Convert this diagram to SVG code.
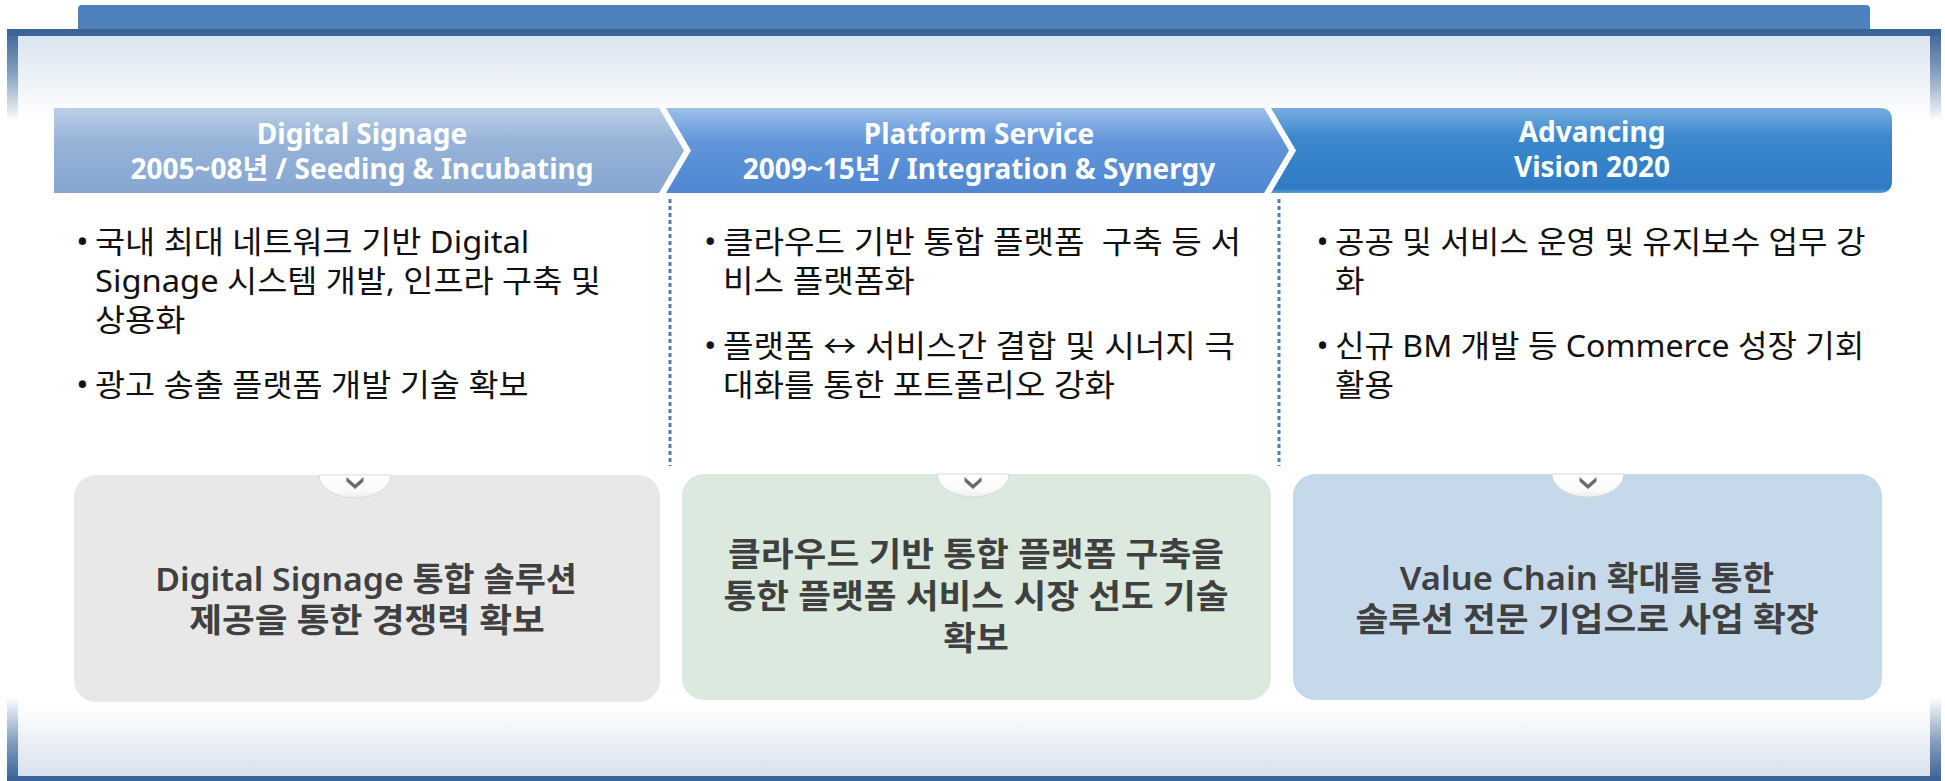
<svg xmlns="http://www.w3.org/2000/svg" width="1945" height="781" viewBox="0 0 1945 781">
  <style>
    .hd{font-family:"Noto Sans","Noto Sans CJK KR",sans-serif;font-weight:bold;font-size:28px;fill:#ffffff;text-anchor:middle}
    .bd{font-family:"Noto Sans","Noto Sans CJK KR",sans-serif;font-size:31px;fill:#111111;white-space:pre}
    .bl{font-family:"Noto Sans","Noto Sans CJK KR",sans-serif;font-size:31px;fill:#111111;text-anchor:middle}
    .cd{font-family:"Noto Sans","Noto Sans CJK KR",sans-serif;font-weight:600;font-size:33px;fill:#404040;text-anchor:middle}
    .sep{stroke:#4a7ebf;stroke-width:3;stroke-dasharray:4 3;fill:none}
    .tab{fill:url(#tabFill);stroke:#dadada;stroke-width:1}
    .chev{fill:#6b6b6b}
    .frameDark{fill:#3b6498}
  </style>
  <defs>
    <linearGradient id="topPanel" x1="0" y1="0" x2="0" y2="1">
      <stop offset="0" stop-color="#d8e2ef"/>
      <stop offset="1" stop-color="#ffffff"/>
    </linearGradient>
    <linearGradient id="botPanel" x1="0" y1="0" x2="0" y2="1">
      <stop offset="0" stop-color="#ffffff"/>
      <stop offset="1" stop-color="#d6dfec"/>
    </linearGradient>
    <linearGradient id="fadeDown" x1="0" y1="0" x2="0" y2="1">
      <stop offset="0" stop-color="#3b6498" stop-opacity="1"/>
      <stop offset="0.45" stop-color="#3b6498" stop-opacity="0.6"/>
      <stop offset="1" stop-color="#3b6498" stop-opacity="0"/>
    </linearGradient>
    <linearGradient id="fadeUp" x1="0" y1="1" x2="0" y2="0">
      <stop offset="0" stop-color="#3b6498" stop-opacity="1"/>
      <stop offset="0.45" stop-color="#3b6498" stop-opacity="0.6"/>
      <stop offset="1" stop-color="#3b6498" stop-opacity="0"/>
    </linearGradient>
    <linearGradient id="h1" x1="0" y1="0" x2="0" y2="1">
      <stop offset="0" stop-color="#bccfe6"/>
      <stop offset="0.4" stop-color="#96b3d8"/>
      <stop offset="1" stop-color="#86a6d1"/>
    </linearGradient>
    <linearGradient id="h2" x1="0" y1="0" x2="0" y2="1">
      <stop offset="0" stop-color="#9dbfe9"/>
      <stop offset="0.4" stop-color="#6095da"/>
      <stop offset="1" stop-color="#5087d1"/>
    </linearGradient>
    <linearGradient id="h3" x1="0" y1="0" x2="0" y2="1">
      <stop offset="0" stop-color="#76ade0"/>
      <stop offset="0.35" stop-color="#3b88cf"/>
      <stop offset="0.95" stop-color="#2f7cc5"/>
      <stop offset="1" stop-color="#5c9fd8"/>
    </linearGradient>
    <radialGradient id="tabShadow" cx="0.5" cy="1" r="0.5" fx="0.5" fy="1">
      <stop offset="0" stop-color="#8c8c8c" stop-opacity="0.75"/>
      <stop offset="1" stop-color="#8c8c8c" stop-opacity="0"/>
    </radialGradient>
    <linearGradient id="tabFill" x1="0" y1="0" x2="0" y2="1">
      <stop offset="0" stop-color="#ffffff"/>
      <stop offset="0.7" stop-color="#fafafa"/>
      <stop offset="1" stop-color="#ececec"/>
    </linearGradient>
  </defs>

  <rect width="1945" height="781" fill="#ffffff"/>

  <!-- frame -->
  <g id="frame">
    <path d="M78,29 L78,9 Q78,5 82,5 L1866,5 Q1870,5 1870,9 L1870,29 Z" fill="#4f81bd"/>
    <rect x="7" y="29" width="1934" height="90" fill="url(#topPanel)"/>
    <rect x="7" y="29" width="11" height="92" fill="url(#fadeDown)"/>
    <rect x="1930" y="29" width="11" height="92" fill="url(#fadeDown)"/>
    <path class="frameDark" d="M7,36 L7,33 Q7,29 11,29 L1937,29 Q1941,29 1941,33 L1941,36 Z"/>
    <rect x="7" y="705" width="1934" height="76" fill="url(#botPanel)"/>
    <rect x="7" y="697" width="11" height="84" fill="url(#fadeUp)"/>
    <rect x="1930" y="697" width="11" height="84" fill="url(#fadeUp)"/>
    <rect class="frameDark" x="7" y="776" width="1934" height="5"/>
  </g>

  <!-- phase headers -->
  <g id="header1">
    <path d="M54,108 L659,108 L684,150.5 L659,193 L54,193 Z" fill="url(#h1)"/>
    <text class="hd"><tspan x="362" y="144">Digital Signage</tspan><tspan x="362" y="179">2005~08년 / Seeding &amp; Incubating</tspan></text>
  </g>
  <g id="header2">
    <path d="M666,108 L1264,108 L1289,150.5 L1264,193 L666,193 L691,150.5 Z" fill="url(#h2)"/>
    <text class="hd"><tspan x="979" y="144">Platform Service</tspan><tspan x="979" y="179">2009~15년 / Integration &amp; Synergy</tspan></text>
  </g>
  <g id="header3">
    <path d="M1271,108 L1880,108 Q1892,108 1892,120 L1892,181 Q1892,193 1880,193 L1271,193 L1296,150.5 Z" fill="url(#h3)"/>
    <text class="hd"><tspan x="1592" y="142">Advancing</tspan><tspan x="1592" y="177">Vision 2020</tspan></text>
  </g>

  <!-- separators -->
  <g id="connectors">
    <line class="sep" x1="670" y1="199" x2="670" y2="466"/>
    <line class="sep" x1="1279" y1="199" x2="1279" y2="466"/>
  </g>

  <!-- bullet text columns -->
  <g id="bullets1" transform="translate(95,0) scale(1.055,1)">
    <text class="bl" x="-12" y="253">•</text>
    <text class="bd" xml:space="preserve"><tspan x="0" y="253">국내 최대 네트워크 기반 Digital</tspan><tspan x="0" y="292">Signage 시스템 개발, 인프라 구축 및</tspan><tspan x="0" y="331">상용화</tspan></text>
    <text class="bl" x="-12" y="396">•</text>
    <text class="bd" x="0" y="396">광고 송출 플랫폼 개발 기술 확보</text>
  </g>
  <g id="bullets2" transform="translate(723,0) scale(1.07,1)">
    <text class="bl" x="-12" y="253">•</text>
    <text class="bd" xml:space="preserve"><tspan x="0" y="253">클라우드 기반 통합 플랫폼  구축 등 서</tspan><tspan x="0" y="292">비스 플랫폼화</tspan></text>
    <text class="bl" x="-12" y="357">•</text>
    <text class="bd" xml:space="preserve"><tspan x="0" y="357">플랫폼 ↔ 서비스간 결합 및 시너지 극</tspan><tspan x="0" y="396">대화를 통한 포트폴리오 강화</tspan></text>
  </g>
  <g id="bullets3" transform="translate(1335,0) scale(1.035,1)">
    <text class="bl" x="-12" y="253">•</text>
    <text class="bd" xml:space="preserve"><tspan x="0" y="253">공공 및 서비스 운영 및 유지보수 업무 강</tspan><tspan x="0" y="292">화</tspan></text>
    <text class="bl" x="-12" y="357">•</text>
    <text class="bd" xml:space="preserve"><tspan x="0" y="357">신규 BM 개발 등 Commerce 성장 기회</tspan><tspan x="0" y="396">활용</tspan></text>
  </g>

  <!-- outcome cards -->
  <g id="card1">
    <ellipse cx="355" cy="474" rx="52" ry="15" fill="url(#tabShadow)"/>
    <rect x="74" y="475" width="586" height="227" rx="22" fill="#e8e8e8"/>
    <path class="tab" d="M319,475 A36,23 0 0 0 391,475 Z"/>
    <path class="chev" d="M346.5,477 L355,484.5 L363.5,477 L363.5,481.5 L355,489 L346.5,481.5 Z"/>
    <text class="cd" transform="translate(366,0) scale(1.025,1)" x="0" y="591">Digital Signage 통합 솔루션</text>
    <text class="cd" transform="translate(367,0) scale(1.08,1)" x="0" y="632">제공을 통한 경쟁력 확보</text>
  </g>
  <g id="card2">
    <ellipse cx="973" cy="474" rx="52" ry="15" fill="url(#tabShadow)"/>
    <rect x="682" y="474" width="589" height="226" rx="22" fill="#dbe9de"/>
    <path class="tab" d="M937,474 A36,23 0 0 0 1009,474 Z"/>
    <path class="chev" d="M964.5,477 L973,484.5 L981.5,477 L981.5,481.5 L973,489 L964.5,481.5 Z"/>
    <text class="cd" transform="translate(976,0) scale(1.08,1)"><tspan x="0" y="566">클라우드 기반 통합 플랫폼 구축을</tspan><tspan x="0" y="608">통한 플랫폼 서비스 시장 선도 기술</tspan><tspan x="0" y="650">확보</tspan></text>
  </g>
  <g id="card3">
    <ellipse cx="1588" cy="474" rx="52" ry="15" fill="url(#tabShadow)"/>
    <rect x="1293" y="474" width="589" height="226" rx="22" fill="#c6d9ea"/>
    <path class="tab" d="M1552,474 A36,23 0 0 0 1624,474 Z"/>
    <path class="chev" d="M1579.5,477 L1588,484.5 L1596.5,477 L1596.5,481.5 L1588,489 L1579.5,481.5 Z"/>
    <text class="cd" transform="translate(1587,0) scale(1.045,1)" x="0" y="590">Value Chain 확대를 통한</text>
    <text class="cd" transform="translate(1587,0) scale(1.08,1)" x="0" y="631">솔루션 전문 기업으로 사업 확장</text>
  </g>
</svg>
